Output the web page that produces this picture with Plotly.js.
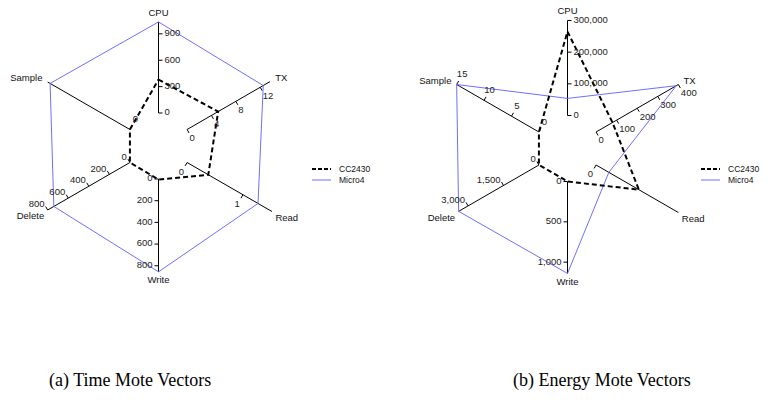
<!DOCTYPE html>
<html><head><meta charset="utf-8">
<script src="https://cdn.plot.ly/plotly-3.0.1.min.js"></script>
<style>html,body{margin:0;padding:0;background:#fff}#chart{width:782px;height:402px}</style>
</head><body><div id="chart"></div>
<script>
// ---------- data ----------
const axisNames = ['CPU', 'TX', 'Read', 'Write', 'Delete', 'Sample'];
const axisAngles = [90, 30, -30, -90, -150, 150];
const seriesNames = ['CC2430', 'Micro4'];

// (a) Time Mote Vectors
const timeMax = [1080, 13.5, 1.473, 876, 800, 1];
const timeEnd = [1035, 13.6, 1.52, 856, 800, 1];
const timeTicks = [[0, 300, 600, 900], [0, 4, 8, 12], [0, 1], [0, 200, 400, 600, 800], [0, 200, 400, 600, 800], [0]];
const timeCC2430 = [380, 5.1, 0.38, 5, 0, 0];
const timeMicro4 = [1035, 12.5, 1.27, 856, 740, 0.97];

// (b) Energy Mote Vectors
const energyMax = [300000, 400, 1, 1178, 3484, 15];
const energyEnd = [300000, 400, 1, 1140, 3403, 15];
const energyTicks = [[0, 100000, 200000, 300000], [0, 100, 200, 300, 400], [0], [0, 500, 1000], [0, 1500, 3000], [0, 5, 10, 15]];
const energyCC2430 = [265000, 80, 0.52, 0, 0, 0];
const energyMicro4 = [54000, 390, 0.155, 1140, 3400, 15];

const captions = ['(a) Time Mote Vectors', '(b) Energy Mote Vectors'];

// ---------- geometry / style ----------
const W = 782, H = 402;
const HOLE_PX = 33, UNIT_PX = 95, R_OUT = 141;
const FONT = 'Liberation Sans, Arial, Helvetica, sans-serif';
const MICRO_COLOR = '#6f6fff';
const tickLabelPos = ['middle right', 'bottom right', 'middle center', 'middle left', 'middle left', 'middle center'];
const tickLabelOff = [6, 5, 11.5, 6, 6, 11];
const namePos = ['top center', 'middle right', 'bottom right', 'bottom center', 'bottom left', 'middle left'];
const nameOff = [4, 6, 4, 4, 4, 6];

// radial coordinate in units of UNIT_PX, axis zero sits at the inner hole radius
function toPolar(i, frac, perpPx, radialPx) {
  const rpx = HOLE_PX + frac * UNIT_PX + (radialPx || 0);
  const d = perpPx || 0;
  const rp = Math.sqrt(rpx * rpx + d * d);
  const th = axisAngles[i] - Math.atan2(d, rpx) * 180 / Math.PI;
  return [rp / UNIT_PX, th];
}

function buildChart(sub, maxes, ends, ticks, cc, micro) {
  const traces = [];
  const ar = [], at = [];
  axisNames.forEach((n, i) => {
    const a = toPolar(i, 0), b = toPolar(i, ends[i] / maxes[i]);
    ar.push(a[0], b[0], null); at.push(a[1], b[1], null);
  });
  traces.push({type: 'scatterpolar', subplot: sub, r: ar, theta: at, mode: 'lines',
    line: {color: '#000', width: 1}, connectgaps: false, hoverinfo: 'skip', showlegend: false});
  const tr = [], tt = [];
  const lr = [], lt = [], ltxt = [], lpos = [];
  ticks.forEach((arr, i) => {
    arr.forEach(v => {
      const a = toPolar(i, v / maxes[i]), b = toPolar(i, v / maxes[i], 4);
      tr.push(a[0], b[0], null); tt.push(a[1], b[1], null);
      const c = toPolar(i, v / maxes[i], tickLabelOff[i]);
      lr.push(c[0]); lt.push(c[1]); ltxt.push(v.toLocaleString('en-US')); lpos.push(tickLabelPos[i]);
    });
  });
  traces.push({type: 'scatterpolar', subplot: sub, r: tr, theta: tt, mode: 'lines',
    line: {color: '#000', width: 1}, connectgaps: false, hoverinfo: 'skip', showlegend: false});
  function poly(vals, name, line) {
    const pts = vals.map((v, i) => toPolar(i, v / maxes[i]));
    const r = pts.map(p => p[0]), th = pts.map(p => p[1]);
    r.push(r[0]); th.push(th[0]);
    return {type: 'scatterpolar', subplot: sub, r: r, theta: th, mode: 'lines', name: name,
      line: line, hoverinfo: 'skip', showlegend: false};
  }
  traces.push(poly(micro, seriesNames[1], {color: MICRO_COLOR, width: 1}));
  traces.push(poly(cc, seriesNames[0], {color: '#000', width: 2, dash: '5px,3px'}));
  traces.push({type: 'scatterpolar', subplot: sub, r: lr, theta: lt, mode: 'text', text: ltxt,
    textposition: lpos, textfont: {family: FONT, size: 9.5, color: '#222'}, cliponaxis: false,
    hoverinfo: 'skip', showlegend: false});
  const nr = [], nt = [];
  axisNames.forEach((n, i) => {
    const p = toPolar(i, ends[i] / maxes[i], 0, nameOff[i]);
    nr.push(p[0]); nt.push(p[1]);
  });
  traces.push({type: 'scatterpolar', subplot: sub, r: nr, theta: nt, mode: 'text', text: axisNames,
    textposition: namePos, textfont: {family: FONT, size: 9.5, color: '#111'}, cliponaxis: false,
    hoverinfo: 'skip', showlegend: false});
  return traces;
}

const data = [].concat(
  buildChart('polar', timeMax, timeEnd, timeTicks, timeCC2430, timeMicro4),
  buildChart('polar2', energyMax, energyEnd, energyTicks, energyCC2430, energyMicro4)
);

function px(x) { return x / W; }
function py(y) { return 1 - y / H; }
function polarLayout(cx, cy) {
  return {
    domain: {x: [px(cx - R_OUT), px(cx + R_OUT)], y: [py(cy + R_OUT), py(cy - R_OUT)]},
    bgcolor: 'rgba(0,0,0,0)',
    radialaxis: {visible: false, range: [0, R_OUT / UNIT_PX]},
    angularaxis: {visible: false}
  };
}

const shapes = [], annotations = [];
function legend(x0) {
  shapes.push({type: 'line', xref: 'paper', yref: 'paper', x0: px(x0), x1: px(x0 + 19), y0: py(169), y1: py(169),
    line: {color: '#000', width: 2, dash: '4px,2px'}});
  shapes.push({type: 'line', xref: 'paper', yref: 'paper', x0: px(x0), x1: px(x0 + 19), y0: py(180), y1: py(180),
    line: {color: MICRO_COLOR, width: 1}});
  annotations.push({xref: 'paper', yref: 'paper', x: px(x0 + 25), y: py(169), xanchor: 'left', yanchor: 'middle',
    text: seriesNames[0], showarrow: false, font: {family: FONT, size: 8.5, color: '#111'}});
  annotations.push({xref: 'paper', yref: 'paper', x: px(x0 + 25), y: py(180), xanchor: 'left', yanchor: 'middle',
    text: seriesNames[1], showarrow: false, font: {family: FONT, size: 8.5, color: '#111'}});
}
legend(312);
legend(701);
const CAP_FONT = {family: 'Liberation Serif, Times New Roman, serif', size: 18, color: '#000'};
annotations.push({xref: 'paper', yref: 'paper', x: px(130), y: py(380), xanchor: 'center', yanchor: 'middle',
  text: captions[0], showarrow: false, font: CAP_FONT});
annotations.push({xref: 'paper', yref: 'paper', x: px(602), y: py(380), xanchor: 'center', yanchor: 'middle',
  text: captions[1], showarrow: false, font: CAP_FONT});

const layout = {
  width: W, height: H,
  margin: {l: 0, r: 0, t: 0, b: 0},
  paper_bgcolor: '#fff',
  showlegend: false,
  polar: polarLayout(158.5, 146),
  polar2: polarLayout(567.5, 148.5),
  shapes: shapes,
  annotations: annotations
};

Plotly.newPlot('chart', data, layout, {staticPlot: true, displayModeBar: false});
</script>
</body></html>
